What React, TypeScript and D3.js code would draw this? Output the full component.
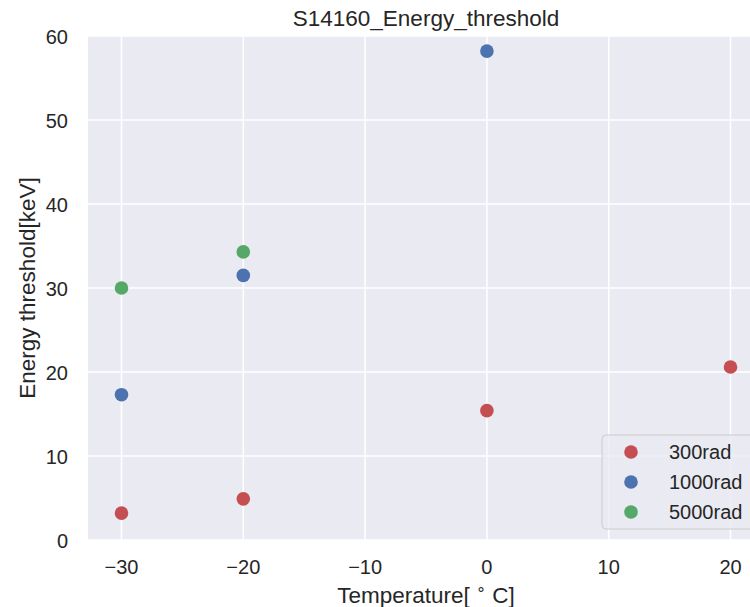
import React, { useEffect, useRef } from "react";
import * as d3 from "d3";

// temperatures [°C] and thresholds [keV] per dose
const temps300 = [-30, -20, 0, 20];
const vals300 = [3.2, 4.9, 15.4, 20.6];
const temps1000 = [-30, -20, 0];
const vals1000 = [17.3, 31.5, 58.2];
const temps5000 = [-30, -20];
const vals5000 = [30.0, 34.3];
const seriesNames = ["300rad", "1000rad", "5000rad"];
const seriesColors = ["#C44E52", "#4C72B0", "#55A868"];
const xTicks = [-30, -20, -10, 0, 10, 20];
const yTicks = [0, 10, 20, 30, 40, 50, 60];

const W = 750;
const H = 607;
const FONT = "'Liberation Sans', Arial, sans-serif";
const INK = "#262626";

function App() {
  const svgRef = useRef<SVGSVGElement>(null);

  useEffect(() => {
    const svg = d3.select(svgRef.current);
    svg.selectAll("*").remove();

    const left = 88, right = 764, top = 36, bottom = 540;
    const x = d3.scaleLinear().domain([-32.75, 22.75]).range([left, right]);
    const y = d3.scaleLinear().domain([0, 60]).range([bottom, top]);

    svg.append("rect")
      .attr("x", left).attr("y", top)
      .attr("width", right - left).attr("height", bottom - top)
      .attr("fill", "#EAEAF2");

    // grid
    svg.append("g").selectAll("line").data(xTicks).join("line")
      .attr("x1", (d) => x(d)).attr("x2", (d) => x(d))
      .attr("y1", top).attr("y2", bottom)
      .attr("stroke", "#fff").attr("stroke-width", 1.5);
    svg.append("g").selectAll("line").data(yTicks).join("line")
      .attr("x1", left).attr("x2", right)
      .attr("y1", (d) => y(d)).attr("y2", (d) => y(d))
      .attr("stroke", "#fff").attr("stroke-width", 1.5);

    // tick labels
    svg.append("g").selectAll("text").data(xTicks).join("text")
      .attr("x", (d) => x(d)).attr("y", 574)
      .attr("text-anchor", "middle")
      .attr("font-family", FONT).attr("font-size", 20).attr("fill", INK)
      .text((d) => (d < 0 ? "\u2212" + Math.abs(d) : String(d)));
    svg.append("g").selectAll("text").data(yTicks).join("text")
      .attr("x", 68).attr("y", (d) => y(d) + 7.5)
      .attr("text-anchor", "end")
      .attr("font-family", FONT).attr("font-size", 20).attr("fill", INK)
      .text((d) => String(d));

    // points
    const series = [
      { t: temps300, v: vals300 },
      { t: temps1000, v: vals1000 },
      { t: temps5000, v: vals5000 },
    ];
    series.forEach((s, i) => {
      svg.append("g").selectAll("circle").data(s.t).join("circle")
        .attr("cx", (d) => x(d)).attr("cy", (d, j) => y(s.v[j]))
        .attr("r", 6.8).attr("fill", seriesColors[i]);
    });

    // title and axis labels
    svg.append("text")
      .attr("x", (left + right) / 2).attr("y", 26)
      .attr("text-anchor", "middle")
      .attr("font-family", FONT).attr("font-size", 22.5).attr("fill", INK)
      .text("S14160_Energy_threshold");

    const xl = svg.append("text")
      .attr("x", (left + right) / 2).attr("y", 603)
      .attr("text-anchor", "middle")
      .attr("font-family", FONT).attr("font-size", 22.5).attr("fill", INK);
    xl.append("tspan").text("Temperature[ ");
    xl.append("tspan").attr("dy", -8).attr("font-size", 16).text("\u2218");
    xl.append("tspan").attr("dy", 8).text(" C]");

    svg.append("text")
      .attr("transform", `translate(35, ${(top + bottom) / 2}) rotate(-90)`)
      .attr("text-anchor", "middle")
      .attr("font-family", FONT).attr("font-size", 22.5).attr("fill", INK)
      .text("Energy threshold[keV]");

    // legend
    const lg = svg.append("g");
    lg.append("rect")
      .attr("x", 602).attr("y", 435).attr("width", 170).attr("height", 94)
      .attr("rx", 4)
      .attr("fill", "#EAEAF2").attr("fill-opacity", 0.8)
      .attr("stroke", "#CCCCCC").attr("stroke-width", 1);
    seriesNames.forEach((name, i) => {
      const cy = 452 + i * 30;
      lg.append("circle").attr("cx", 631).attr("cy", cy).attr("r", 6.8)
        .attr("fill", seriesColors[i]);
      lg.append("text").attr("x", 669).attr("y", cy + 7)
        .attr("font-family", FONT).attr("font-size", 20).attr("fill", INK)
        .text(name);
    });
  }, []);

  return (
    <svg ref={svgRef} width={W} height={H}
      style={{ position: "absolute", left: 0, top: 0, background: "#fff" }} />
  );
}

export default App;
